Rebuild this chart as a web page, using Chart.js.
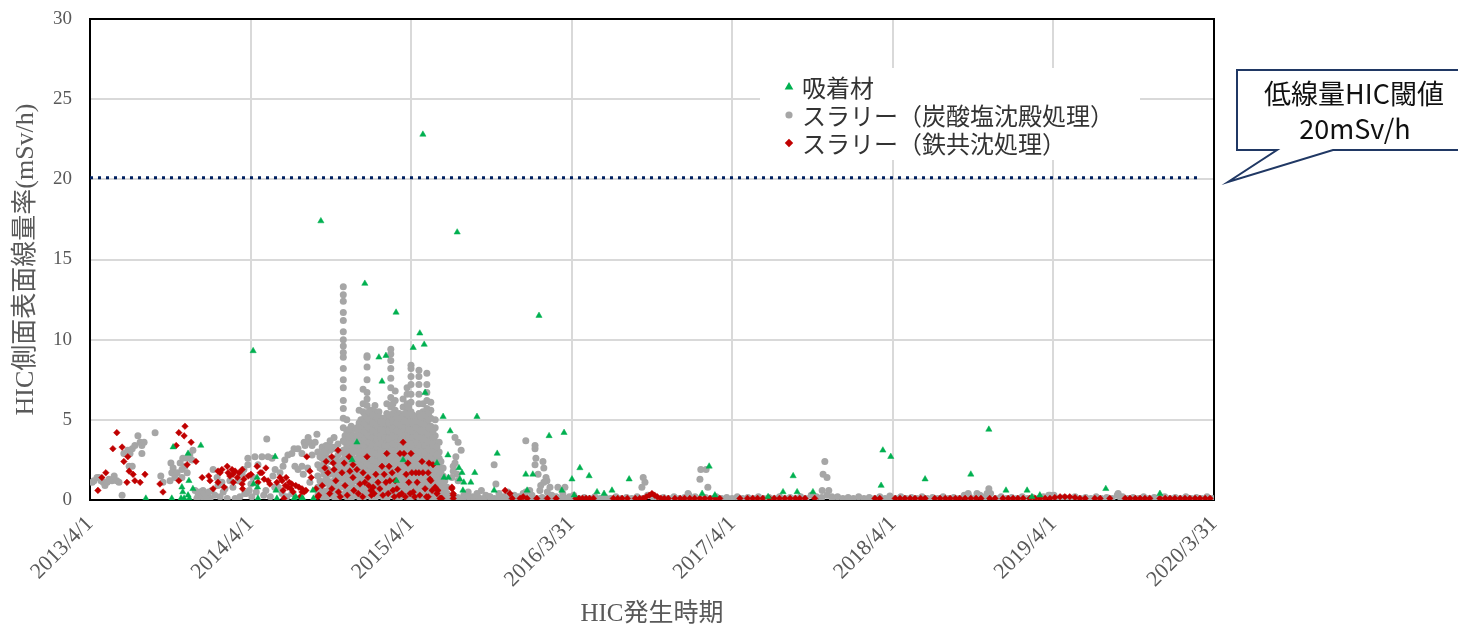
<!DOCTYPE html>
<html><head><meta charset="utf-8">
<script src="https://cdn.jsdelivr.net/npm/chart.js@4.4.1/dist/chart.umd.min.js"></script>
<style>html,body{margin:0;padding:0;background:#fff;overflow:hidden}</style>
</head><body>
<canvas id="c" width="1458" height="627"></canvas>
<script>
// ---- axis ticks (days since 2013/4/1) ----
const tickDays = [0, 365, 730, 1095, 1461, 1826, 2191, 2556];
const tickLabels = ['2013/4/1','2014/4/1','2015/4/1','2016/3/31','2017/4/1','2018/4/1','2019/4/1','2020/3/31'];
const seriesNames = ['吸着材', 'スラリー（炭酸塩沈殿処理）', 'スラリー（鉄共沈処理）'];
const thresholdX = [0, 2525];
const thresholdY = [20.1, 20.1];
const calloutLines = ['低線量HIC閾値', '20mSv/h'];

// ---- 吸着材 [day, mSv/h] ----
const adsorbent = [[127,0.1],[186,0.1],[189,3.3],[207,0.1],[209,0.8],[211,0.5],[214,0.1],[223,2.9],[223,0.3],[225,1.2],[226,0.1],[234,0.7],[252,3.4],
[371,9.3],[372,1.0],[380,1.4],[381,0.8],[382,0.1],[421,2.7],[423,0.6],[425,0.1],[464,0.1],[468,0.2],[484,0.1],[507,0.6],[482,0.1],[508,0.1],
[525,17.4],[596,2.5],[607,3.6],[625,13.5],[657,8.9],[664,7.4],[673,9.0],[696,11.7],[697,1.2],[712,2.5],[735,9.5],[750,10.4],[757,22.8],[760,9.7],[762,6.7],
[789,2.3],[803,5.2],[805,1.4],[814,2.8],[815,1.4],[819,4.3],[835,16.7],[839,2.0],[841,1.3],[846,1.7],[848,0.6],[850,1.1],[866,1.1],[875,1.7],[880,5.2],
[919,0.6],[926,2.9],[991,1.6],[994,0.6],[1007,1.6],[1021,11.5],[1044,4.0],[1073,0.6],[1078,4.2],[1096,1.3],[1101,0.3],[1114,2.0],[1135,1.5],[1153,0.5],
[1169,0.4],[1187,0.6],[1226,1.3],[1392,0.4],[1408,2.1],[1421,0.3],[1542,0.2],[1576,0.5],[1599,1.5],[1608,0.5],[1644,0.5],[1799,0.9],[1803,3.1],[1821,2.7],
[1899,1.3],[2003,1.6],[2044,4.4],[2083,0.6],[2131,0.6],[2142,0.2],[2160,0.3],[2310,0.7],[2433,0.4]];

// ---- スラリー（鉄共沈処理） [day, mSv/h] ----
const ironEarly = [[61,4.2],[52,3.2],[73,3.3],[86,2.7],[77,2.4],[89,1.8],[98,1.6],[102,1.2],[114,1.1],[125,1.6],[84,1.1],[36,1.7],[27,1.4],[18,0.6],
[216,4.6],[202,4.2],[214,4.0],[230,3.6],[196,3.4],[241,2.4],[221,2.2],[159,1.0],[166,0.5],[202,1.2],[255,1.4],[273,1.2],
[280,0.7],[291,1.8],[300,1.9],[312,2.1],[323,1.9],[330,1.8],[339,1.7],[346,1.9],[296,1.7],[314,1.7],[325,1.6],[291,1.1],[305,0.8],[326,1.1],[346,1.0],[347,0.7],
[366,1.6],[380,2.1],[387,1.7],[382,1.1],[391,1.7],[396,1.3],[405,1.2],[409,1.0],[425,1.1],[439,0.6],[441,0.1],[446,1.4],[453,1.1],[459,1.0],[468,0.9],[475,0.8],
[482,0.7],[491,0.6],[493,2.7],[270,1.5],[318,1.5],[335,1.4],[350,1.3],[360,1.5],[400,2.0],[432,1.4],[437,1.2],[444,0.9],[450,0.8],[457,0.7],[462,0.5]];
const ironPeak = [[500,1.8],[503,1.4],[482,0.5],[487,0.5],[478,0.2],[514,0.7],[528,0.9],[518,0.2],[537,2.4],[550,2.7],[553,2.3],[564,3.1],[534,2.0],[541,1.7],
[555,1.9],[559,1.2],[550,0.7],[569,0.2],[573,1.7],[578,2.3],[580,0.9],[589,2.7],[591,1.8],[598,2.2],[598,1.4],[600,0.6],[607,1.9],[614,1.0],[621,1.7],[630,2.7],
[625,1.1],[632,1.4],[634,0.9],[639,0.6],[644,0.8],[646,0.4],[650,1.6],[655,1.1],[659,0.7],[664,2.1],[669,1.6],[675,2.9],[673,1.1],[680,2.1],[682,1.2],[687,1.7],
[689,0.6],[694,1.2],[698,0.7],[700,1.9],[705,2.9],[709,0.4],[712,3.6],[714,2.9],[719,1.6],[723,2.3],[725,1.1],[730,2.9],[732,1.7],[735,0.5],[741,1.7],[744,1.1],
[748,1.7],[755,2.4],[757,1.7],[762,0.7],[769,1.7],[771,2.3],[775,1.2],[778,0.6],[785,0.8],[789,0.4],[796,0.1],[800,0.1],[823,0.8],[826,0.4],[826,0.1],
[780,2.2],[773,1.3],[791,0.6],[798,0.1],[769,0.2],[823,0.7],[826,0.3],[944,0.6],[955,0.4],[960,0.1],[978,0.1],[985,0.2],[994,0.1],[1016,0.1],
[520,0.3],[545,0.4],[565,0.5],[585,0.3],[610,0.4],[620,0.2],[640,0.3],[666,0.3],[678,0.4],[692,0.2],[703,0.3],[717,0.2],[728,0.4],[738,0.2],[750,0.3],[765,0.2]];
const ironLate = [[1040,0.1],[1060,0.1],[1105,0.1],[1112,0.1],[1120,0.1],[1128,0.1],[1136,0.1],[1145,0.1],[1190,0.1],[1200,0.1],[1210,0.1],[1222,0.1],
[1240,0.1],[1250,0.1],[1258,0.1],[1265,0.2],[1272,0.3],[1278,0.4],[1284,0.3],[1290,0.2],[1298,0.1],[1306,0.1],[1315,0.1],[1330,0.1],[1342,0.1],[1352,0.1],
[1364,0.1],[1375,0.1],[1387,0.1],[1398,0.1],[1410,0.1],[1422,0.1],[1432,0.1],[1478,0.1],[1495,0.1],[1507,0.1],[1518,0.1],[1530,0.1],[1545,0.1],[1556,0.1],
[1568,0.1],[1580,0.1],[1592,0.1],[1604,0.1],[1614,0.1],[1626,0.1],[1648,0.1],[1785,0.1],[1796,0.1],[1831,0.1],[1842,0.1],[1853,0.1],[1865,0.1],[1876,0.1],
[1889,0.1],[1899,0.1],[1921,0.1],[1933,0.1],[1945,0.1],[1956,0.1],[1968,0.1],[1978,0.1],[1990,0.1],[2003,0.1],[2015,0.1],[2026,0.1],[2046,0.1],[2058,0.1],
[2076,0.1],[2088,0.1],[2099,0.1],[2110,0.1],[2122,0.1],[2137,0.1],[2149,0.1],[2160,0.1],[2172,0.1],[2183,0.1],[2194,0.15],[2206,0.2],[2217,0.2],[2228,0.2],
[2240,0.15],[2251,0.1],[2263,0.1],[2285,0.1],[2297,0.1],[2319,0.1],[2354,0.1],[2365,0.1],[2377,0.1],[2388,0.1],[2399,0.1],[2410,0.1],[2433,0.1],[2445,0.1],
[2456,0.1],[2467,0.1],[2479,0.1],[2490,0.1],[2501,0.1],[2513,0.1],[2524,0.1],[2536,0.1],[2547,0.1]];

// ---- スラリー（炭酸塩沈殿処理） [day, mSv/h] ----
const carbEarly = [[5,1.1],[9,1.2],[16,1.4],[20,1.4],[25,1.2],[30,1.1],[34,0.9],[39,1.1],[43,1.3],[50,1.2],[55,1.5],[61,1.2],[66,1.1],[73,0.3],[77,2.9],
[86,3.1],[91,2.9],[96,3.2],[102,3.4],[109,4.0],[114,3.6],[118,3.4],[123,3.6],[118,2.9],[148,4.2],[89,2.1],[96,2.1],[161,1.5],[166,1.1],[184,2.3],[189,2.0],
[186,1.7],[198,1.7],[205,2.3],[209,1.9],[216,2.1],[211,2.6],[221,2.6],[227,2.8],[232,2.5],[234,3.1],[182,1.2],[193,1.4],[209,1.4],[221,1.7],[239,0.6],
[246,0.3],[252,0.4],[262,0.2],[268,0.3],[273,0.1],[257,0.6],[277,0.6],[280,1.9],[289,1.4],[291,0.9],[300,1.1],[307,0.7],[312,0.1],[318,1.2],[325,0.8],
[330,0.1],[337,1.2],[346,1.6],[350,1.9],[359,2.2],[359,2.6],[352,0.4],[341,0.2],[366,1.0],[371,1.4],[375,2.7],[382,2.2],[402,3.8],[391,2.7],[405,2.7],
[414,2.6],[421,1.9],[416,1.5],[432,1.7],[439,2.1],[443,2.5],[450,2.8],[459,2.9],[464,3.2],[473,3.2],[482,2.9],[487,3.6],[496,3.9],[500,3.6],[505,3.4],
[466,2.1],[473,1.9],[482,2.1],[428,0.8],[437,0.4],[448,0.2],[459,0.4],[243,0.1],[250,0.5],[255,0.2],[260,0.4],[265,0.1],[270,0.5],[284,0.3],[296,0.2],
[303,0.5],[355,0.4],[362,0.6],[368,0.2],[378,0.5],[395,0.3],[400,0.6],[410,0.2],[420,0.8],[489,3.4],[516,4.1],[512,3.6],[505,2.8],[495,2.0],[500,1.1],[485,1.6]];
// peak period columns: [day, [values...]]
const carbPeakCols = [
[518,[0.3,0.8,1.5,2.2,3.0]],
[528,[0.2,0.6,1.1,1.9,2.6,3.3]],
[537,[0.1,0.5,1.3,2.0,2.9,3.4]],
[546,[0.3,0.9,1.6,2.4,3.1,3.7]],
[555,[0.2,0.7,1.2,1.8,2.5,3.2,3.9]],
[564,[0.1,0.5,1.0,1.6,2.2,2.8,3.5]],
[576,[0.3,0.9,1.5,2.0,2.5,3.1,3.7,4.5,5.1,5.7,6.2,7.0,7.5,8.2,8.9,9.2,9.6,10.0,10.5,11.2,11.7,12.4,12.8,13.3]],
[584,[0.2,0.6,1.0,1.5,1.9,2.4,2.9,3.3,3.8,4.3,5.0]],
[594,[0.1,0.5,0.9,1.4,1.8,2.3,2.7,3.2,3.6,4.1,4.6]],
[603,[0.3,0.7,1.2,1.6,2.1,2.5,3.0,3.4,3.9,4.4]],
[612,[0.2,0.6,1.0,1.5,1.9,2.4,2.8,3.3,3.8,4.3,4.8,5.6]],
[621,[0.1,0.5,0.9,1.3,1.8,2.2,2.7,3.1,3.6,4.0,4.5,5.0,5.5,6.0,6.9]],
[630,[0.3,0.7,1.1,1.6,2.0,2.5,2.9,3.4,3.8,4.3,4.8,5.3,5.9,6.3,6.7,7.5,8.3,8.9,9.0]],
[639,[0.2,0.6,1.0,1.4,1.9,2.3,2.8,3.2,3.7,4.1,4.6,5.1,5.6]],
[648,[0.1,0.5,0.9,1.3,1.7,2.2,2.6,3.1,3.5,4.0,4.4,4.9,5.5,5.9]],
[657,[0.3,0.7,1.1,1.5,2.0,2.4,2.9,3.3,3.8,4.2,4.7,5.2,5.5]],
[666,[0.2,0.6,1.0,1.5,1.9,2.3,2.8,3.2,3.7,4.1,4.6,5.1]],
[675,[0.1,0.5,0.9,1.3,1.8,2.2,2.7,3.1,3.6,4.0,4.5,5.0,5.4,6.0]],
[684,[0.3,0.7,1.1,1.5,2.0,2.4,2.9,3.3,3.8,4.2,4.7,5.2,5.8,6.4,7.0,7.6,8.2,8.7,9.1,9.4]],
[694,[0.2,0.6,1.0,1.4,1.9,2.3,2.8,3.2,3.7,4.1,4.6,5.0,5.6,6.2,6.8]],
[703,[0.1,0.5,0.9,1.3,1.8,2.2,2.7,3.1,3.6,4.0,4.5,4.9,5.4]],
[712,[0.3,0.7,1.1,1.6,2.0,2.5,2.9,3.4,3.8,4.3,4.7,5.2,5.8,6.3]],
[721,[0.2,0.6,1.0,1.4,1.9,2.3,2.8,3.2,3.7,4.1,4.6,5.0,5.5,6.0,6.6,7.0]],
[730,[0.1,0.5,0.9,1.4,1.8,2.3,2.7,3.2,3.6,4.1,4.5,5.0,5.5,6.1,6.6,7.2,7.7,8.2,8.4]],
[739,[0.3,0.7,1.1,1.5,2.0,2.4,2.9,3.3,3.8,4.2,4.7,5.1]],
[748,[0.2,0.6,1.0,1.4,1.9,2.3,2.8,3.2,3.7,4.1,4.6,5.0,5.4,6.0,6.6,7.2,7.7,8.1]],
[757,[0.1,0.5,0.9,1.3,1.8,2.2,2.7,3.1,3.6,4.0,4.5,5.0,5.5,6.0]],
[766,[0.3,0.7,1.1,1.6,2.0,2.5,2.9,3.4,3.8,4.3,4.7,5.2,5.7,6.2,6.7,7.2,7.9]],
[775,[0.2,0.6,1.0,1.4,1.9,2.3,2.8,3.2,3.7,4.1,4.6,5.1,5.6,6.1]],
[785,[0.1,0.5,0.9,1.3,1.8,2.2,2.7,3.1,3.6,4.0,4.5,5.0]],
[794,[0.3,0.7,1.2,1.6,2.1,2.6,3.0,3.6]],
[803,[0.2,0.6,1.0,1.5,2.0]],
[812,[0.1,0.4,0.8]]];
// peak period, in-between readings
const carbPeakFill = [
[523,[0.5,1.2,2.0,2.7]],
[532,[0.4,1.0,1.6,2.3,3.0]],
[541,[0.6,1.2,1.9,2.6,3.3]],
[550,[0.5,1.1,1.8,2.5,3.3]],
[559,[0.4,0.9,1.4,2.0,2.6,3.3]],
[570,[0.3,0.8,1.3,1.8,2.4,3.0]],
[580,[0.4,0.8,1.3,1.7,2.2,2.7,3.1,3.6,4.0]],
[589,[0.3,0.7,1.2,1.6,2.1,2.5,3.0,3.4,3.9,4.4]],
[598,[0.4,0.8,1.3,1.7,2.2,2.6,3.1,3.5,4.0]],
[607,[0.3,0.7,1.2,1.6,2.1,2.5,3.0,3.5,4.0,4.5]],
[616,[0.4,0.8,1.2,1.7,2.1,2.6,3.0,3.5,4.0,4.5,5.0]],
[625,[0.3,0.7,1.1,1.6,2.0,2.5,2.9,3.4,3.8,4.3,4.8,5.3]],
[634,[0.4,0.9,1.3,1.8,2.2,2.7,3.1,3.6,4.0,4.5,5.0,5.5]],
[643,[0.3,0.8,1.2,1.7,2.1,2.5,3.0,3.4,3.9,4.3,4.8,5.3]],
[652,[0.4,0.8,1.1,1.5,2.0,2.4,2.9,3.3,3.8,4.2,4.7,5.2]],
[661,[0.5,0.9,1.3,1.7,2.2,2.6,3.1,3.5,4.0,4.4,4.9]],
[670,[0.4,0.8,1.2,1.7,2.1,2.5,3.0,3.4,3.9,4.3,4.8]],
[679,[0.3,0.7,1.1,1.6,2.0,2.5,2.9,3.4,3.8,4.3,4.8,5.3]],
[689,[0.5,0.9,1.3,1.7,2.2,2.6,3.1,3.5,4.0,4.4,4.9,5.4,6.0]],
[698,[0.4,0.8,1.2,1.6,2.1,2.5,3.0,3.4,3.9,4.3,4.8,5.2]],
[707,[0.3,0.7,1.1,1.5,2.0,2.4,2.9,3.3,3.8,4.2,4.7,5.1]],
[716,[0.5,0.9,1.3,1.8,2.2,2.7,3.1,3.6,4.0,4.5,4.9,5.4]],
[725,[0.4,0.8,1.2,1.7,2.1,2.6,3.0,3.5,3.9,4.4,4.8,5.3,5.8]],
[734,[0.3,0.7,1.2,1.6,2.1,2.5,3.0,3.4,3.9,4.3,4.8,5.3]],
[743,[0.5,0.9,1.3,1.8,2.2,2.7,3.1,3.6,4.0,4.5,4.9]],
[752,[0.4,0.8,1.2,1.6,2.1,2.5,3.0,3.4,3.9,4.3,4.8,5.2]],
[761,[0.3,0.7,1.1,1.6,2.0,2.5,2.9,3.4,3.8,4.3,4.7,5.3]],
[770,[0.5,0.9,1.4,1.8,2.3,2.7,3.2,3.6,4.1,4.5,5.0,5.4]],
[780,[0.4,0.8,1.2,1.6,2.1,2.5,3.0,3.4,3.9,4.3]],
[789,[0.3,0.7,1.0,1.4,1.9,2.4,2.8,3.3]],
[798,[0.4,0.8,1.3,1.8,2.4]],
[807,[0.3,0.7,1.2]]];
const carbLate = [[830,3.9],[837,3.6],[844,3.1],[832,2.7],[826,2.1],[835,1.6],[837,1.2],[823,1.4],[830,2.3],[826,1.8],[919,2.2],[923,1.0],
[991,3.7],[1012,3.4],[1012,3.2],[1014,2.6],[1012,2.2],[1030,2.4],[1032,2.0],[1019,1.6],[1037,1.4],[1039,1.2],[1032,1.1],[1046,0.8],[1064,0.8],[1080,0.8],
[991,0.5],[1023,0.6],[850,0.3],[860,0.5],[870,0.2],[880,0.4],[890,0.6],[900,0.3],[910,0.2],[930,0.4],[940,0.2],[950,0.5],[965,0.3],[975,0.2],[985,0.4],
[1000,0.6],[1005,0.3],[1025,0.9],[1040,0.5],[1050,0.3],[1060,0.2],[1075,0.4],[1090,0.2],[1100,0.3],
[1258,1.4],[1262,1.1],[1255,0.8],[1389,1.9],[1401,1.9],[1387,1.3],[1405,0.8],[1360,0.4],[1362,0.3],
[1671,2.4],[1667,1.6],[1676,1.4],[1665,0.6],[1680,0.6],[1687,0.2],[1819,0.25],[1997,0.4],[2017,0.4],[2044,0.7],[2040,0.4],[2183,0.3],[2192,0.3],[2338,0.4],[2342,0.2]];
const carbBase = [[800,0.1],[812,0.2],[824,0.1],[836,0.15],[848,0.1],[860,0.2],[872,0.1],[884,0.15],[896,0.1],[908,0.2],[920,0.1],[932,0.15],[944,0.1],
[956,0.2],[968,0.1],[980,0.15],[992,0.1],[1004,0.2],[1016,0.1],[1028,0.15],[1040,0.1],[1052,0.2],[1064,0.1],[1076,0.15],[1088,0.1],[1100,0.2],[1112,0.1],
[1124,0.15],[1136,0.1],[1148,0.2],[1160,0.1],[1172,0.15],[1184,0.1],[1196,0.2],[1208,0.1],[1220,0.15],[1232,0.1],[1244,0.2],[1256,0.1],[1268,0.3],[1280,0.2],
[1292,0.1],[1304,0.15],[1316,0.1],[1328,0.2],[1340,0.1],[1352,0.15],[1364,0.1],[1376,0.2],[1388,0.1],[1400,0.15],[1412,0.1],[1424,0.2],[1436,0.1],[1448,0.15],
[1460,0.1],[1472,0.2],[1484,0.1],[1496,0.15],[1508,0.1],[1520,0.2],[1532,0.1],[1544,0.15],[1556,0.1],[1568,0.2],[1580,0.1],[1592,0.15],[1604,0.1],[1616,0.2],
[1628,0.1],[1640,0.3],[1652,0.2],[1664,0.15],[1676,0.3],[1688,0.1],[1700,0.2],[1712,0.1],[1724,0.15],[1736,0.1],[1748,0.2],[1760,0.1],[1772,0.15],[1784,0.1],
[1796,0.2],[1808,0.1],[1820,0.15],[1832,0.1],[1844,0.2],[1856,0.1],[1868,0.15],[1880,0.1],[1892,0.2],[1904,0.1],[1916,0.15],[1928,0.1],[1940,0.2],[1952,0.1],
[1964,0.15],[1976,0.1],[1988,0.3],[2000,0.2],[2012,0.1],[2024,0.3],[2036,0.2],[2048,0.4],[2060,0.1],[2072,0.2],[2084,0.1],[2096,0.15],[2108,0.1],[2120,0.2],
[2132,0.1],[2144,0.15],[2156,0.1],[2168,0.2],[2180,0.3],[2192,0.2],[2204,0.1],[2216,0.15],[2228,0.1],[2240,0.2],[2252,0.1],[2264,0.15],[2276,0.1],[2288,0.2],
[2300,0.1],[2312,0.15],[2324,0.1],[2336,0.3],[2348,0.2],[2360,0.1],[2372,0.15],[2384,0.1],[2396,0.2],[2408,0.1],[2420,0.15],[2432,0.1],[2444,0.2],[2456,0.1],
[2468,0.15],[2480,0.1],[2492,0.2],[2504,0.1],[2516,0.15],[2528,0.1],[2540,0.2],[2552,0.1]];

// ---- build ----
const toPts = a => a.map(p => ({x: p[0], y: p[1]}));
const colPts = cols => cols.flatMap(c => c[1].map(v => ({x: c[0], y: v})));
const COLORS = {ads: '#00B050', carb: '#A6A6A6', iron: '#C00000', thr: '#002060'};
const SERIF = "'Liberation Serif', 'Noto Sans CJK JP', serif";
const CJK = "'Noto Sans CJK JP', sans-serif";

const overlay = {
  id: 'overlay',
  beforeDatasetsDraw(chart) {
    const {ctx, chartArea: a} = chart;
    ctx.save();
    ctx.fillStyle = '#fff';
    ctx.fillRect(760, 68, 380, 92);
    ctx.strokeStyle = '#000';
    ctx.lineWidth = 2;
    ctx.strokeRect(a.left, a.top, a.right - a.left, a.bottom - a.top);
    const items = [
      {style: 'triangle', color: COLORS.ads, r: 3},
      {style: 'circle', color: COLORS.carb, r: 2.6},
      {style: 'rectRot', color: COLORS.iron, r: 2.8}
    ];
    ctx.font = '24px ' + CJK;
    ctx.textBaseline = 'middle';
    items.forEach((it, i) => {
      const y = 87 + i * 28;
      ctx.fillStyle = it.color; ctx.strokeStyle = it.color;
      Chart.helpers.drawPoint(ctx, {pointStyle: it.style, radius: it.r, rotation: 0, borderWidth: 1}, 789, y);
      ctx.fillStyle = '#333';
      ctx.fillText(seriesNames[i], 802, y + 1);
    });
    ctx.restore();
  },
  afterDraw(chart) {
    const ctx = chart.ctx;
    ctx.save();
    ctx.beginPath();
    ctx.moveTo(1237, 70); ctx.lineTo(1462, 70); ctx.lineTo(1462, 150);
    ctx.lineTo(1333, 150); ctx.lineTo(1228, 182); ctx.lineTo(1277, 150);
    ctx.lineTo(1237, 150); ctx.closePath();
    ctx.fillStyle = '#fff'; ctx.fill();
    ctx.strokeStyle = '#203864'; ctx.lineWidth = 2; ctx.lineJoin = 'miter'; ctx.stroke();
    ctx.fillStyle = '#111';
    ctx.textAlign = 'center'; ctx.textBaseline = 'middle';
    ctx.font = '27px ' + CJK;
    ctx.fillText(calloutLines[0], 1354, 94);
    ctx.fillText(calloutLines[1], 1355, 129);
    ctx.restore();
  }
};

new Chart(document.getElementById('c'), {
  type: 'scatter',
  data: {
    datasets: [
      {type: 'line', label: 'threshold', data: thresholdX.map((x, i) => ({x, y: thresholdY[i]})),
       borderColor: COLORS.thr, borderWidth: 3, borderDash: [3, 5], borderCapStyle: 'butt', pointRadius: 0, order: 0},
      {label: seriesNames[0], data: toPts(adsorbent), pointStyle: 'triangle', pointRadius: 3.6,
       backgroundColor: COLORS.ads, borderColor: COLORS.ads, borderWidth: 0.5, order: 1},
      {label: seriesNames[2], data: toPts([...ironEarly, ...ironPeak, ...ironLate]), pointStyle: 'rectRot', pointRadius: 3.3,
       backgroundColor: COLORS.iron, borderColor: COLORS.iron, borderWidth: 0.5, order: 2},
      {label: seriesNames[1], data: [...toPts(carbEarly), ...colPts(carbPeakCols), ...colPts(carbPeakFill), ...toPts(carbLate), ...toPts(carbBase)],
       pointStyle: 'circle', pointRadius: 3.5, backgroundColor: COLORS.carb, borderColor: COLORS.carb, borderWidth: 0, order: 3}
    ]
  },
  options: {
    responsive: false,
    animation: false,
    devicePixelRatio: 1,
    layout: {padding: {left: 0, right: 244, top: 19, bottom: 0}},
    plugins: {legend: {display: false}, tooltip: {enabled: false}},
    scales: {
      x: {
        type: 'linear', min: 0, max: 2556,
        afterBuildTicks: s => { s.ticks = tickDays.map(v => ({value: v})); },
        afterFit: s => { s.height = 127; s.paddingLeft = 0; s.paddingRight = 0; },
        ticks: {autoSkip: false, maxRotation: 45, minRotation: 45, padding: 11, color: '#595959',
                font: {family: SERIF, size: 22}, callback: (v, i) => tickLabels[i]},
        grid: {color: '#D9D9D9', lineWidth: 2, drawTicks: false},
        border: {display: false},
        title: {display: true, text: 'HIC発生時期', color: '#595959', font: {family: SERIF, size: 25, lineHeight: 1}, padding: {top: 0, bottom: 0}}
      },
      y: {
        min: 0, max: 30,
        afterFit: s => { s.width = 90; s.paddingTop = 0; s.paddingBottom = 0; },
        ticks: {stepSize: 5, padding: 18, color: '#595959', font: {family: SERIF, size: 19}},
        grid: {color: '#D9D9D9', lineWidth: 2, drawTicks: false},
        border: {display: false},
        title: {display: true, text: 'HIC側面表面線量率(mSv/h)', color: '#595959', font: {family: SERIF, size: 26}, padding: {top: 11, bottom: 0}}
      }
    }
  },
  plugins: [overlay]
});
</script>
</body></html>
